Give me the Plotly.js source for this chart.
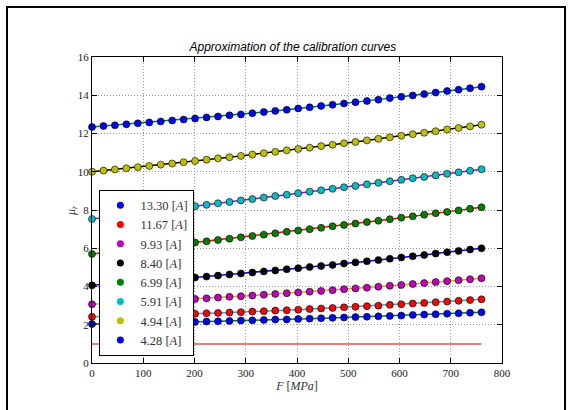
<!DOCTYPE html>
<html>
<head>
<meta charset="utf-8">
<script src="https://cdn.plot.ly/plotly-3.0.1.min.js"></script>
<style>html,body{margin:0;padding:0;background:#fff;}#chart{width:572px;height:410px;}</style>
</head>
<body>
<div id="chart"></div>
<script>
// Force F [MPa]
const forceMPa = [0, 22.35, 44.71, 67.06, 89.41, 111.76, 134.12, 156.47, 178.82, 201.18, 223.53, 245.88, 268.24, 290.59, 312.94, 335.29, 357.65, 380.00, 402.35, 424.71, 447.06, 469.41, 491.76, 514.12, 536.47, 558.82, 581.18, 603.53, 625.88, 648.24, 670.59, 692.94, 715.29, 737.65, 760];

// legend labels (current)
const currentLabels = ["13.30", "11.67", "9.93", "8.40", "6.99", "5.91", "4.94", "4.28"];

// relative permeability per current (same order as labels)
const mu_13_30 = [2.04, 2.05, 2.06, 2.07, 2.09, 2.10, 2.11, 2.13, 2.14, 2.15, 2.17, 2.18, 2.20, 2.22, 2.23, 2.25, 2.27, 2.28, 2.30, 2.32, 2.34, 2.36, 2.38, 2.40, 2.42, 2.44, 2.46, 2.48, 2.51, 2.53, 2.55, 2.58, 2.60, 2.63, 2.65];
const mu_11_67 = [2.42, 2.43, 2.45, 2.46, 2.48, 2.50, 2.52, 2.53, 2.55, 2.57, 2.60, 2.62, 2.64, 2.66, 2.69, 2.71, 2.74, 2.76, 2.79, 2.82, 2.85, 2.88, 2.91, 2.94, 2.97, 3.00, 3.04, 3.07, 3.11, 3.14, 3.18, 3.21, 3.25, 3.29, 3.33];
const mu_9_93 = [3.07, 3.10, 3.13, 3.16, 3.19, 3.22, 3.25, 3.28, 3.32, 3.35, 3.38, 3.42, 3.46, 3.49, 3.53, 3.57, 3.61, 3.65, 3.69, 3.73, 3.77, 3.81, 3.86, 3.90, 3.94, 3.99, 4.04, 4.08, 4.13, 4.18, 4.23, 4.28, 4.33, 4.38, 4.43];
const mu_8_40 = [4.06, 4.10, 4.15, 4.19, 4.23, 4.28, 4.33, 4.37, 4.42, 4.47, 4.52, 4.57, 4.63, 4.68, 4.73, 4.79, 4.84, 4.90, 4.96, 5.02, 5.07, 5.13, 5.20, 5.26, 5.32, 5.38, 5.45, 5.52, 5.58, 5.65, 5.72, 5.79, 5.86, 5.93, 6.00];
const mu_6_99 = [5.70, 5.76, 5.83, 5.90, 5.96, 6.03, 6.09, 6.16, 6.23, 6.30, 6.36, 6.43, 6.50, 6.57, 6.64, 6.71, 6.78, 6.86, 6.93, 7.00, 7.07, 7.15, 7.22, 7.29, 7.37, 7.44, 7.52, 7.60, 7.67, 7.75, 7.83, 7.90, 7.98, 8.06, 8.14];
const mu_5_91 = [7.53, 7.60, 7.68, 7.75, 7.82, 7.90, 7.97, 8.05, 8.12, 8.20, 8.27, 8.35, 8.42, 8.50, 8.57, 8.65, 8.73, 8.80, 8.88, 8.96, 9.03, 9.11, 9.19, 9.26, 9.34, 9.42, 9.50, 9.58, 9.66, 9.73, 9.81, 9.89, 9.97, 10.05, 10.13];
const mu_4_94 = [10.00, 10.06, 10.12, 10.18, 10.24, 10.30, 10.37, 10.43, 10.50, 10.56, 10.63, 10.70, 10.76, 10.83, 10.90, 10.97, 11.04, 11.12, 11.19, 11.26, 11.34, 11.41, 11.49, 11.56, 11.64, 11.72, 11.80, 11.88, 11.96, 12.04, 12.12, 12.21, 12.29, 12.37, 12.46];
const mu_4_28 = [12.34, 12.39, 12.43, 12.48, 12.53, 12.58, 12.63, 12.68, 12.73, 12.78, 12.84, 12.89, 12.95, 13.00, 13.06, 13.12, 13.18, 13.24, 13.31, 13.37, 13.44, 13.50, 13.57, 13.64, 13.70, 13.77, 13.85, 13.92, 13.99, 14.06, 14.14, 14.22, 14.29, 14.37, 14.45];

// reference line mu_r = 1
const refX = [0, 760];
const refY = [1, 1];

const seriesValues = [mu_13_30, mu_11_67, mu_9_93, mu_8_40, mu_6_99, mu_5_91, mu_4_94, mu_4_28];
const markerColors = ["#0000ff", "#ff0000", "#bf00bf", "#000000", "#008000", "#00bfbf", "#bfbf00", "#0000ff"];
const lineColors   = ["#008000", "#00bfbf", "#bfbf00", "#0000ff", "#ff0000", "#bf00bf", "#000000", "#008000"];

const SERIF = "Liberation Serif, DejaVu Serif, serif";
const traces = [];

// fitted lines (under markers)
seriesValues.forEach((vals, i) => {
  traces.push({
    x: forceMPa, y: vals, type: "scatter", mode: "lines",
    line: {color: lineColors[i], width: 1.5},
    showlegend: false, hoverinfo: "skip", cliponaxis: false
  });
});

traces.push({
  x: refX, y: refY, type: "scatter", mode: "lines",
  line: {color: "rgba(225,95,95,0.8)", width: 2},
  showlegend: false, hoverinfo: "skip"
});

// measured points
seriesValues.forEach((vals, i) => {
  traces.push({
    x: forceMPa, y: vals, type: "scatter", mode: "markers",
    name: currentLabels[i] + " [<i>A</i>]",
    marker: {color: markerColors[i], size: 7, line: {color: "#000", width: 0.6}},
    cliponaxis: false, showlegend: false
  });
});

// legend entries (plain dots, as in the reference legend)
currentLabels.forEach((lab, i) => {
  traces.push({
    x: [null], y: [null], type: "scatter", mode: "markers",
    name: lab + " [<i>A</i>]",
    marker: {color: markerColors[i], size: 7},
    showlegend: true
  });
});

const axisCommon = {
  showline: true, linecolor: "#000", linewidth: 1, mirror: "allticks",
  ticks: "inside", ticklen: 5, tickwidth: 1, tickcolor: "#000",
  showgrid: true, gridcolor: "#9a9a9a", griddash: "1px,2px", gridwidth: 1,
  zeroline: false, tickfont: {family: SERIF, size: 11, color: "#222"}
};

const layout = {
  width: 572, height: 410,
  margin: {l: 92, r: 70, t: 57, b: 47, autoexpand: false},
  paper_bgcolor: "#fff", plot_bgcolor: "#fff",
  title: {
    text: "<i>Approximation of the calibration curves</i>",
    font: {family: "Liberation Sans, Arial, sans-serif", size: 12, color: "#000"},
    x: 0.49, xref: "paper", xanchor: "center",
    y: 0.886, yref: "container", yanchor: "middle"
  },
  xaxis: Object.assign({}, axisCommon, {
    range: [0, 800], dtick: 100, tick0: 0,
    title: {text: "<i>F</i> [<i>MPa</i>]", font: {family: SERIF, size: 12, color: "#333"}, standoff: 2}
  }),
  yaxis: Object.assign({}, axisCommon, {
    range: [0, 16], dtick: 2, tick0: 0
  }),
  annotations: [{
    text: "<i>μ<sub>r</sub></i>", xref: "paper", yref: "paper",
    x: -0.049, y: 0.5, xanchor: "center", yanchor: "middle",
    textangle: -90, showarrow: false,
    font: {family: SERIF, size: 12, color: "#333"}
  }],
  legend: {
    x: 0.018, y: 0.024, xanchor: "left", yanchor: "bottom",
    bgcolor: "#fff", bordercolor: "#000", borderwidth: 1,
    font: {family: SERIF, size: 12.5, color: "#333"},
    traceorder: "normal", itemwidth: 30
  },
  shapes: [{
    type: "rect", xref: "paper", yref: "paper",
    x0: -0.2073, x1: 1.1537, y0: -0.17, y1: 1.1634,
    line: {color: "#000", width: 2}, fillcolor: "rgba(0,0,0,0)", layer: "below"
  }],
  showlegend: true
};

Plotly.newPlot("chart", traces, layout, {displayModeBar: false, staticPlot: true});
</script>
</body>
</html>
